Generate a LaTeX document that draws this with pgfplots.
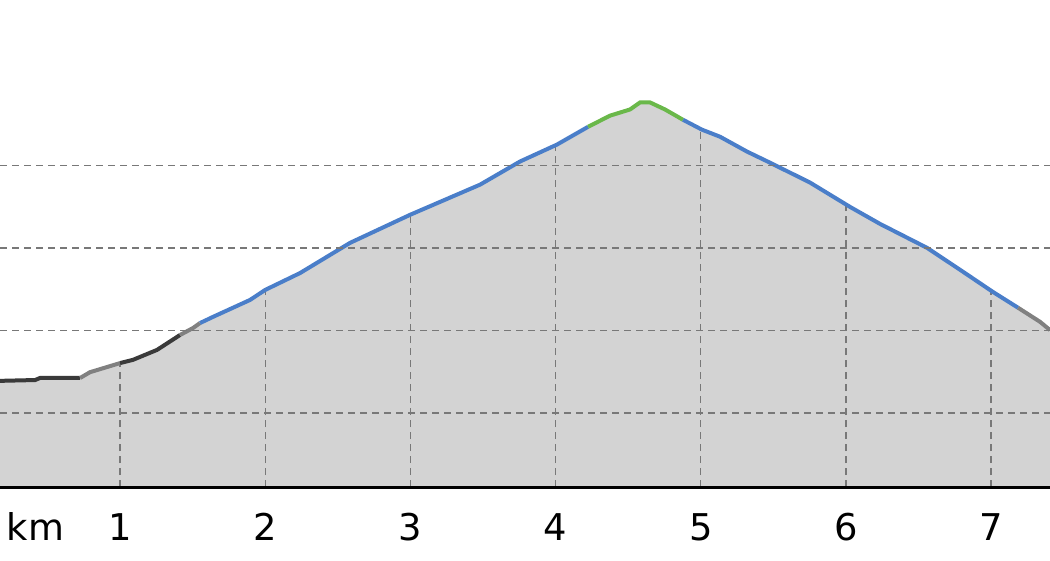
\documentclass[border=0pt]{standalone}
\usepackage{pgfplots}
\usepackage{pgfplotstable}
\usepackage{fontspec}
\setmainfont{DejaVu Sans}
\pgfplotsset{compat=1.18}

\definecolor{fillgray}{RGB}{211,211,211}
\definecolor{lndark}{RGB}{58,58,58}
\definecolor{lngray}{RGB}{128,128,128}
\definecolor{lnblue}{RGB}{74,126,201}
\definecolor{lngreen}{RGB}{106,184,74}
\definecolor{gridgray}{RGB}{120,120,120}

% elevation profile: km, elevation (m)
\pgfplotstableread{
km    ele
0.173 107.8
0.415 108.0
0.449 108.5
0.725 108.5
0.793 109.9
1.000 112.1
1.090 112.9
1.255 115.3
1.413 118.9
1.503 120.6
1.551 121.8
1.641 123.3
1.896 127.4
1.999 129.8
2.240 133.9
2.584 141.2
2.998 148.0
3.480 155.3
3.755 160.9
4.010 165.0
4.224 169.3
4.375 172.0
4.513 173.5
4.582 175.2
4.651 175.2
4.754 173.5
4.878 171.0
5.009 168.6
5.133 166.9
5.319 163.3
5.478 160.6
5.753 155.8
6.029 149.9
6.235 145.8
6.559 140.0
6.786 134.7
7.014 129.3
7.186 125.5
7.337 122.1
7.406 120.1
}\profile

\begin{document}
\begin{tikzpicture}
\begin{axis}[
  name=ax,
  scale only axis,
  width=1050bp, height=487bp,
  xmin=0.173, xmax=7.406,
  ymin=82.1, ymax=200,
  axis x line*=bottom,
  axis y line*=left,
  y axis line style={draw=none},
  x axis line style={black, line width=3bp},
  xtick={1,2,3,4,5,6,7},
  ytick={100,120,140,160},
  yticklabels={},
  major tick length=0pt,
  ymajorgrids,
  major grid style={gridgray, line width=1.4bp, dash pattern=on 7bp off 5bp},
  axis on top,
  clip=false,
  /pgf/number format/assume math mode=true,
  tick label style={font=\fontsize{37}{42}\selectfont},
  xticklabel style={anchor=base, yshift=-53bp},
]
\addplot[draw=none, fill=fillgray] table[x=km, y=ele] {\profile} |- (axis cs:0.173,82.1) -- cycle;

% vertical grid lines only up to the profile
\addplot[ycomb, gridgray, line width=1.4bp, dash pattern=on 7bp off 5bp] coordinates {(1,112.1) (2,129.9) (3,148.0) (4,164.9) (5,168.7) (6,150.8) (7,129.5)};

\addplot[lndark, line width=4bp] coordinates {(0.173,107.8) (0.415,108.0) (0.449,108.5) (0.725,108.5)};
\addplot[lngray, line width=4bp] coordinates {(0.725,108.5) (0.793,109.9) (1.000,112.1)};
\addplot[lndark, line width=4bp] coordinates {(1.000,112.1) (1.090,112.9) (1.255,115.3) (1.413,118.9)};
\addplot[lngray, line width=4bp] coordinates {(1.413,118.9) (1.503,120.6) (1.551,121.8)};
\addplot[lnblue, line width=4bp] coordinates {(1.551,121.8) (1.641,123.3) (1.896,127.4) (1.999,129.8) (2.240,133.9) (2.584,141.2) (2.998,148.0) (3.480,155.3) (3.755,160.9) (4.010,165.0) (4.224,169.3)};
\addplot[lngreen, line width=4bp] coordinates {(4.224,169.3) (4.375,172.0) (4.513,173.5) (4.582,175.2) (4.651,175.2) (4.754,173.5) (4.878,171.0)};
\addplot[lnblue, line width=4bp] coordinates {(4.878,171.0) (5.009,168.6) (5.133,166.9) (5.319,163.3) (5.478,160.6) (5.753,155.8) (6.029,149.9) (6.235,145.8) (6.559,140.0) (6.786,134.7) (7.014,129.3) (7.186,125.5)};
\addplot[lngray, line width=4bp] coordinates {(7.186,125.5) (7.337,122.1) (7.406,120.1)};

\node[anchor=base, font=\fontsize{37}{42}\selectfont, yshift=-53bp] at (axis description cs:0.0338,0) {km};
\end{axis}
\pgfresetboundingbox
\path[use as bounding box] (ax.south west) ++(0,-73bp) rectangle (ax.north east);
\end{tikzpicture}
\end{document}
